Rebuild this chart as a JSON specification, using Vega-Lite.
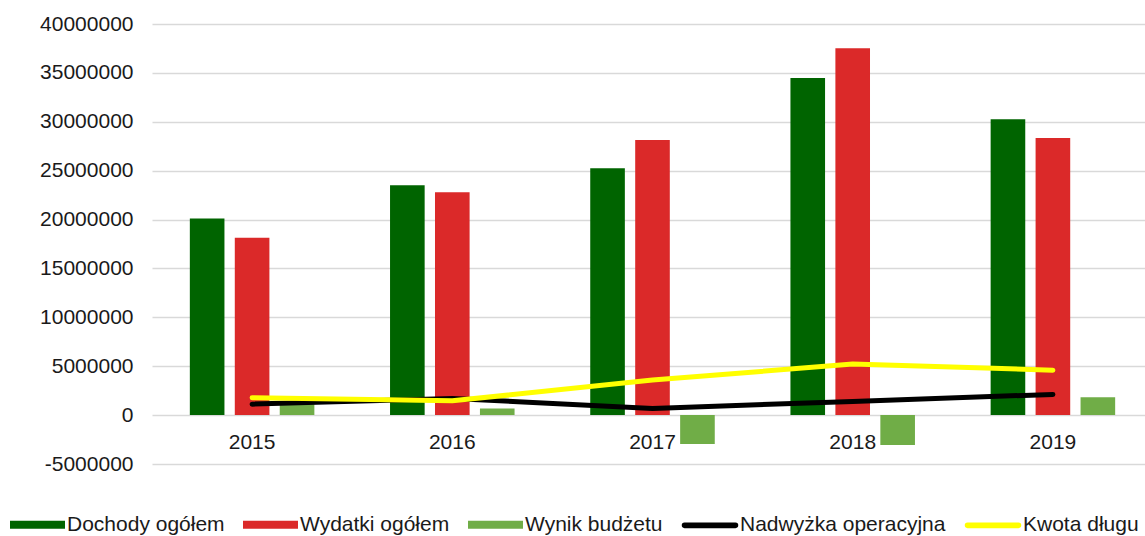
{
  "$schema": "https://vega.github.io/schema/vega-lite/v6.json",
  "autosize": {"type": "none"},
  "padding": {"left": 152, "top": 24, "right": 0, "bottom": 72},
  "width": 993,
  "height": 440,
  "background": "white",
  "config": {"view": {"stroke": null}, "font": "Liberation Sans"},
  "data": {
    "values": [
      {"year": "2015", "series": "Dochody ogółem", "value": 20120000},
      {"year": "2016", "series": "Dochody ogółem", "value": 23500000},
      {"year": "2017", "series": "Dochody ogółem", "value": 25240000},
      {"year": "2018", "series": "Dochody ogółem", "value": 34480000},
      {"year": "2019", "series": "Dochody ogółem", "value": 30250000},
      {"year": "2015", "series": "Wydatki ogółem", "value": 18140000},
      {"year": "2016", "series": "Wydatki ogółem", "value": 22780000},
      {"year": "2017", "series": "Wydatki ogółem", "value": 28130000},
      {"year": "2018", "series": "Wydatki ogółem", "value": 37510000},
      {"year": "2019", "series": "Wydatki ogółem", "value": 28340000},
      {"year": "2015", "series": "Wynik budżetu", "value": 1100000},
      {"year": "2016", "series": "Wynik budżetu", "value": 680000},
      {"year": "2017", "series": "Wynik budżetu", "value": -2950000},
      {"year": "2018", "series": "Wynik budżetu", "value": -3050000},
      {"year": "2019", "series": "Wynik budżetu", "value": 1820000},
      {"year": "2015", "series": "Nadwyżka operacyjna", "value": 1120000},
      {"year": "2016", "series": "Nadwyżka operacyjna", "value": 1700000},
      {"year": "2017", "series": "Nadwyżka operacyjna", "value": 680000},
      {"year": "2018", "series": "Nadwyżka operacyjna", "value": 1400000},
      {"year": "2019", "series": "Nadwyżka operacyjna", "value": 2120000},
      {"year": "2015", "series": "Kwota długu", "value": 1770000},
      {"year": "2016", "series": "Kwota długu", "value": 1460000},
      {"year": "2017", "series": "Kwota długu", "value": 3580000},
      {"year": "2018", "series": "Kwota długu", "value": 5220000},
      {"year": "2019", "series": "Kwota długu", "value": 4600000}
    ]
  },
  "encoding": {
    "x": {
      "field": "year",
      "type": "nominal",
      "scale": {"range": [0, 1001], "paddingInner": 0.378, "paddingOuter": 0.189},
      "axis": {
        "title": null,
        "orient": "bottom",
        "offset": -49,
        "domain": false,
        "ticks": false,
        "grid": false,
        "labelAngle": 0,
        "labelFont": "Liberation Sans",
        "labelFontSize": 21,
        "labelPadding": 16,
        "labelColor": "#1a1a1a"
      }
    },
    "y": {
      "field": "value",
      "type": "quantitative",
      "scale": {"domain": [-5000000, 40000000], "nice": false, "zero": false},
      "axis": {
        "title": null,
        "values": [-5000000, 0, 5000000, 10000000, 15000000, 20000000, 25000000, 30000000, 35000000, 40000000],
        "domain": false,
        "ticks": false,
        "grid": true,
        "gridColor": "#d9d9d9",
        "gridWidth": 1.5,
        "labelFont": "Liberation Sans",
        "labelFontSize": 21,
        "labelColor": "#1a1a1a",
        "labelPadding": 19,
        "labelExpr": "datum.value < 0 ? '-' + format(-datum.value, 'd') : format(datum.value, 'd')"
      }
    }
  },
  "layer": [
    {
      "transform": [{"filter": {"field": "series", "oneOf": ["Dochody ogółem", "Wydatki ogółem", "Wynik budżetu"]}}],
      "mark": {"type": "bar"},
      "encoding": {
        "xOffset": {
          "field": "series",
          "type": "nominal",
          "scale": {"domain": ["Dochody ogółem", "Wydatki ogółem", "Wynik budżetu"], "paddingInner": 0.23, "paddingOuter": 0}
        },
        "fill": {
          "field": "series",
          "type": "nominal",
          "scale": {"domain": ["Dochody ogółem", "Wydatki ogółem", "Wynik budżetu"], "range": ["#006400", "#DB2929", "#70AD47"]},
          "legend": {
            "title": null,
            "orient": "none",
            "legendX": -142,
            "legendY": 473,
            "direction": "horizontal",
            "symbolType": "M-1,-0.145H1V0.145H-1Z",
            "symbolSize": 3025,
            "symbolStrokeWidth": 0,
            "symbolOpacity": 1,
            "labelFont": "Liberation Sans",
            "labelFontSize": 21,
            "labelColor": "#1a1a1a",
            "labelOffset": 2,
            "labelLimit": 400,
            "columnPadding": 18,
            "padding": 0
          }
        }
      }
    },
    {
      "transform": [{"filter": {"field": "series", "equal": "Nadwyżka operacyjna"}}],
      "mark": {"type": "line", "strokeWidth": 5, "strokeCap": "round", "strokeJoin": "round"},
      "encoding": {
        "stroke": {
          "field": "series",
          "type": "nominal",
          "scale": {"domain": ["Nadwyżka operacyjna", "Kwota długu"], "range": ["#000000", "#FFFF00"]},
          "legend": {
            "title": null,
            "orient": "none",
            "legendX": 530,
            "legendY": 473,
            "direction": "horizontal",
            "symbolType": "M-1,-0.01H1A0.01,0.01,0,0,1,1,0.01H-1A0.01,0.01,0,0,1,-1,-0.01Z",
            "symbolSize": 2601,
            "symbolStrokeWidth": 5,
            "symbolOpacity": 1,
            "labelFont": "Liberation Sans",
            "labelFontSize": 21,
            "labelColor": "#1a1a1a",
            "labelOffset": 2,
            "labelLimit": 400,
            "columnPadding": 11,
            "padding": 0
          }
        }
      }
    },
    {
      "transform": [{"filter": {"field": "series", "equal": "Kwota długu"}}],
      "mark": {"type": "line", "strokeWidth": 5, "strokeCap": "round", "strokeJoin": "round"},
      "encoding": {
        "stroke": {"field": "series", "type": "nominal"}
      }
    }
  ]
}
